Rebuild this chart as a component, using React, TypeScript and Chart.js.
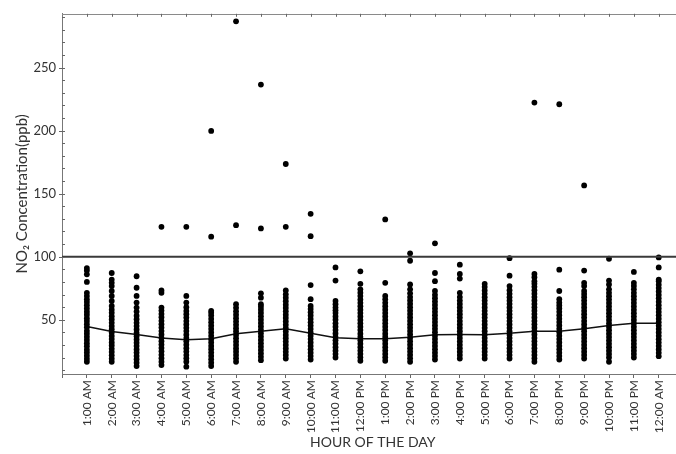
import React, { useEffect, useRef } from "react";
import { Chart, registerables } from "chart.js";

Chart.register(...registerables);

const hourLabels = [
  "1:00 AM", "2:00 AM", "3:00 AM", "4:00 AM", "5:00 AM", "6:00 AM",
  "7:00 AM", "8:00 AM", "9:00 AM", "10:00 AM", "11:00 AM", "12:00 PM",
  "1:00 PM", "2:00 PM", "3:00 PM", "4:00 PM", "5:00 PM", "6:00 PM",
  "7:00 PM", "8:00 PM", "9:00 PM", "10:00 PM", "11:00 PM", "12:00 AM",
];

// NO2 readings (ppb) per hour of the day
const h01 = [16.7, 19, 21.5, 24, 26.3, 29, 31.4, 34, 36.5, 39, 41.2, 44, 46.5, 49, 51.3, 54, 56.4, 59, 61.5, 64, 66.2, 68.8, 71.4, 80, 86, 89, 91];
const h02 = [16.7, 19.2, 21.8, 24.5, 27, 29.6, 32, 34.7, 37.2, 40, 42.5, 45, 47.6, 50.2, 52.8, 55.5, 58, 61, 64.9, 68.9, 72.8, 76.7, 79.3, 81.9, 87.1];
const h03 = [13.3, 16, 18.7, 21.3, 24, 26.5, 29.2, 31.8, 34.4, 37, 39.6, 42.3, 45, 47.6, 50.4, 53.2, 56.5, 59.7, 63.6, 68.9, 75.4, 84.5];
const h04 = [14.1, 16.8, 19.5, 22.2, 25, 27.6, 30.3, 33, 35.7, 38.4, 41, 43.8, 46.5, 49.2, 52, 54.6, 57.3, 59.7, 71.4, 73.3, 123.7];
const h05 = [12.8, 16.7, 19.4, 22, 24.8, 27.5, 30.2, 32.9, 35.5, 38.2, 41, 43.6, 46.3, 49, 51.7, 54.4, 57, 60, 63.6, 68.9, 123.7];
const h06 = [13.3, 16, 18.6, 21.3, 24, 26.7, 29.3, 32, 34.6, 37.3, 40, 42.6, 45.3, 48, 50.6, 53.3, 55.5, 57.1, 115.9, 199.7];
const h07 = [16.7, 19.4, 22, 24.7, 27.3, 30, 32.7, 35.3, 38, 40.7, 43.3, 46, 48.6, 51.3, 54, 56.7, 59.5, 62.4, 125, 286.6];
const h08 = [18, 20.6, 23.3, 26, 28.6, 31.3, 34, 36.7, 39.4, 42, 44.7, 47.4, 50, 52.7, 55.4, 58, 60.4, 62.4, 67.5, 71, 122.4, 236.5];
const h09 = [19.3, 22, 24.6, 27.3, 30, 32.7, 35.4, 38, 40.7, 43.4, 46, 48.7, 51.4, 54, 56.7, 59.4, 62, 64.7, 67.5, 70.2, 73.3, 123.7, 173.5];
const h10 = [18.5, 21.2, 23.9, 26.6, 29.3, 32, 34.7, 37.3, 40, 42.7, 45.4, 48, 50.7, 53.4, 56, 58.6, 61, 66.3, 77.5, 116.3, 134];
const h11 = [20.1, 22.8, 25.5, 28.2, 31, 33.7, 36.4, 39.1, 41.8, 44.5, 47.2, 50, 52.6, 55.3, 57.5, 59.7, 62.3, 64.9, 81.1, 91.5];
const h12 = [17.5, 20.2, 22.9, 25.6, 28.3, 31, 33.7, 36.4, 39, 41.8, 44.5, 47.2, 49.9, 52.6, 55.3, 58, 60.7, 63.4, 66, 68.8, 71.5, 74.1, 78.5, 88.4];
const h13 = [17.5, 20.2, 22.9, 25.6, 28.3, 31, 33.7, 36.4, 39, 41.8, 44.5, 47.2, 49.9, 52.6, 55.3, 58, 60.7, 63.4, 66.2, 68.9, 79.3, 129.6];
const h14 = [16.7, 19.4, 22.1, 24.8, 27.5, 30.2, 32.9, 35.6, 38.3, 41, 43.7, 46.4, 49.1, 51.8, 54.5, 57.2, 59.9, 62.6, 65.3, 68, 71, 74.1, 78, 96.8, 102.7];
const h15 = [18.5, 21.2, 23.9, 26.6, 29.3, 32, 34.7, 37.4, 40.1, 42.8, 45.5, 48.2, 50.9, 53.6, 56.3, 59, 61.7, 64.4, 67.1, 69.8, 72.8, 80.6, 87.1, 110.6];
const h16 = [19.3, 22, 24.7, 27.4, 30.1, 32.8, 35.5, 38.2, 40.9, 43.6, 46.3, 49, 51.7, 54.4, 57.1, 59.8, 62.5, 65.2, 68, 71.4, 82.7, 86.3, 93.7];
const h17 = [19.3, 22, 24.7, 27.4, 30.1, 32.8, 35.5, 38.2, 40.9, 43.6, 46.3, 49, 51.7, 54.4, 57.1, 59.8, 62.5, 65.2, 67.9, 70.6, 73.3, 76, 78.5];
const h18 = [19.3, 22, 24.7, 27.4, 30.1, 32.8, 35.5, 38.2, 40.9, 43.6, 46.3, 49, 51.7, 54.4, 57.1, 59.8, 62.5, 65.2, 67.9, 70.6, 73.5, 76.7, 85, 98.8];
const h19 = [16.7, 19.4, 22.1, 24.8, 27.5, 30.2, 32.9, 35.6, 38.3, 41, 43.7, 46.4, 49.1, 51.8, 54.5, 57.2, 59.9, 62.6, 65.3, 68, 70.7, 73.4, 76.1, 78.5, 80.6, 83.7, 86.3, 222.2];
const h20 = [18.5, 21.2, 23.9, 26.6, 29.3, 32, 34.7, 37.4, 40.1, 42.8, 45.5, 48.2, 50.9, 53.6, 56.3, 59, 61.4, 63.6, 66.3, 72.8, 89.7, 220.9];
const h21 = [19.3, 22, 24.7, 27.4, 30.1, 32.8, 35.5, 38.2, 40.9, 43.6, 46.3, 49, 51.7, 54.4, 57.1, 59.8, 62.5, 65.2, 67.9, 70.4, 72.8, 76.7, 79.3, 89, 156.5];
const h22 = [16.7, 20.1, 22.8, 25.5, 28.2, 30.9, 33.6, 36.3, 39, 41.7, 44.4, 47.1, 49.8, 52.5, 55.2, 57.9, 60.6, 63.3, 66, 68.7, 71.4, 74.1, 78, 81.1, 98.4];
const h23 = [20.1, 22.8, 25.5, 28.2, 30.9, 33.6, 36.3, 39, 41.7, 44.4, 47.1, 49.8, 52.5, 55.2, 57.9, 60.6, 63.3, 66, 68.7, 71.4, 74.1, 76.8, 79.3, 87.9];
const h24 = [21.1, 23.8, 26.5, 29.2, 31.9, 34.6, 37.3, 40, 42.7, 45.4, 48.1, 50.8, 53.5, 56.2, 58.9, 61.6, 64.3, 67, 69.7, 72.4, 75.1, 77.8, 80.6, 81.9, 91.5, 99.4];

const hourValues = [h01, h02, h03, h04, h05, h06, h07, h08, h09, h10, h11, h12, h13, h14, h15, h16, h17, h18, h19, h20, h21, h22, h23, h24];

const hourlyMean = [44.6, 40.7, 38.3, 35.5, 34.2, 35, 38.9, 40.9, 42.8, 39.4, 35.8, 35, 35, 36.2, 38.1, 38.3, 38.1, 39.4, 40.9, 40.9, 42.8, 45.4, 47.2, 47.2];

const limitValue = 100;
const yMajorTicks = [50, 100, 150, 200, 250];

const FONT = "Lato, 'Open Sans', 'DejaVu Sans', sans-serif";

const framePlugin = {
  id: "framePlugin",
  afterDraw(chart: any) {
    const { ctx, chartArea, scales } = chart;
    const { left, top, right } = chartArea;
    ctx.save();
    ctx.strokeStyle = "#8a8a8a";
    ctx.lineWidth = 1;
    ctx.beginPath();
    ctx.moveTo(left, Math.round(top) + 0.5);
    ctx.lineTo(right + 20, Math.round(top) + 0.5);
    ctx.stroke();
    ctx.strokeStyle = "#666";
    ctx.beginPath();
    scales.x.ticks.forEach((t: any) => {
      if (t.value < 1 || t.value > hourLabels.length) return;
      const x = Math.round(scales.x.getPixelForValue(t.value)) + 0.5;
      ctx.moveTo(x, top);
      ctx.lineTo(x, top + 3);
    });
    scales.y.ticks.forEach((t: any) => {
      const y = Math.round(scales.y.getPixelForValue(t.value)) + 0.5;
      const major = yMajorTicks.includes(t.value);
      ctx.moveTo(left - (major ? 3 : 0), y);
      ctx.lineTo(left + 3, y);
    });
    ctx.stroke();
    ctx.restore();
  },
};

export default function App() {
  const ref = useRef<HTMLCanvasElement | null>(null);
  useEffect(() => {
    if (!ref.current) return;
    const points = hourValues.flatMap((vals, i) => vals.map((v) => ({ x: i + 1, y: v })));
    const meanPts = hourlyMean.map((v, i) => ({ x: i + 1, y: v }));
    const limitPts = [
      { x: 0, y: limitValue },
      { x: 26, y: limitValue },
    ];
    const chart = new Chart(ref.current, {
      type: "scatter",
      data: {
        datasets: [
          {
            type: "line",
            data: limitPts,
            borderColor: "#3a3a3a",
            borderWidth: 2,
            pointRadius: 0,
            tension: 0,
          } as any,
          {
            data: points,
            backgroundColor: "#000",
            borderWidth: 0,
            pointRadius: 2.9,
          },
          {
            type: "line",
            data: meanPts,
            borderColor: "#111",
            borderWidth: 1.5,
            pointRadius: 0,
            tension: 0,
          } as any,
        ],
      },
      options: {
        responsive: false,
        devicePixelRatio: 1,
        animation: false,
        layout: { padding: { top: 9, right: 15, bottom: 0, left: 0 } },
        plugins: { legend: { display: false }, tooltip: { enabled: false } },
        scales: {
          x: {
            type: "linear",
            min: 0,
            max: 25,
            afterFit: (s: any) => {
              s.height = 80;
            },
            ticks: {
              stepSize: 1,
              autoSkip: false,
              maxRotation: 90,
              minRotation: 90,
              padding: 2,
              color: "#333",
              font: { family: FONT, size: 12 },
              callback: (v: any) => hourLabels[Number(v) - 1] ?? "",
            },
            grid: { drawOnChartArea: false, drawTicks: true, tickLength: 4, color: "#666" },
            border: { color: "#777", width: 1 },
            title: {
              display: true,
              text: "HOUR OF THE DAY",
              color: "#333",
              font: { family: FONT, size: 14 },
              padding: { top: 0, bottom: 3 },
            },
          },
          y: {
            type: "linear",
            min: 7,
            max: 292.6,
            afterFit: (s: any) => {
              s.width = 62;
            },
            ticks: {
              stepSize: 10,
              autoSkip: false,
              includeBounds: false,
              padding: 6,
              color: "#333",
              font: { family: FONT, size: 13 },
              callback: (v: any) => (yMajorTicks.includes(Number(v)) ? String(v) : ""),
            },
            grid: { drawOnChartArea: false, drawTicks: false },
            border: { color: "#777", width: 1 },
            title: {
              display: true,
              text: "NO₂ Concentration(ppb)",
              color: "#333",
              font: { family: FONT, size: 15 },
              padding: { top: 13, bottom: 0 },
            },
          },
        },
      },
      plugins: [framePlugin],
    });
    return () => chart.destroy();
  }, []);
  return (
    <div
      style={{
        position: "fixed",
        left: 0,
        top: 0,
        width: 676,
        height: 454,
        overflow: "hidden",
        background: "#fff",
      }}
    >
      <canvas ref={ref} width={700} height={454} style={{ display: "block" }} />
    </div>
  );
}
